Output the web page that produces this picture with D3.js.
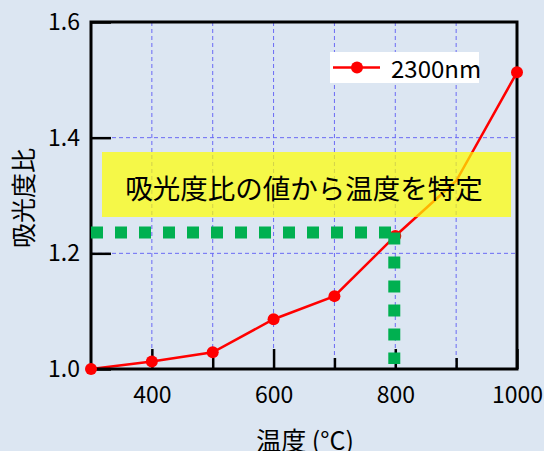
<!DOCTYPE html>
<html><head><meta charset="utf-8">
<script src="https://cdn.jsdelivr.net/npm/d3@7/dist/d3.min.js"></script>
<style>html,body{margin:0;padding:0;background:#dce6f2;}svg{display:block;}</style>
</head><body>
<script>
const temps = [300, 400, 500, 600, 700, 800, 900, 1000];
const ratios = [1.000, 1.013, 1.029, 1.086, 1.126, 1.230, 1.325, 1.513];
const markerShown = [true, true, true, true, true, true, false, true];
const xTickLabels = [400, 600, 800, 1000];
const xMinorTicks = [500, 700, 900];
const yTickLabels = [1.0, 1.2, 1.4, 1.6];
const xGrid = [400, 500, 600, 700, 800, 900];
const yGrid = [1.2, 1.4];
const seriesName = "2300nm";
const annotation = "吸光度比の値から温度を特定";
const readValue = 1.236, readTemp = 800;

const W = 544, H = 451;
const m = {l: 91, t: 22, r: 517, b: 369};
const font = "'Noto Sans CJK JP', 'Noto Sans', sans-serif";
const svg = d3.select("body").append("svg").attr("width", W).attr("height", H);
svg.append("rect").attr("width", W).attr("height", H).attr("fill", "#dce6f2");

const x = d3.scaleLinear().domain([300, 1000]).range([m.l, m.r]);
const y = d3.scaleLinear().domain([1.0, 1.6]).range([m.b, m.t]);

// grid
svg.append("g").selectAll("line").data(xGrid).join("line")
  .attr("x1", d => x(d)).attr("x2", d => x(d)).attr("y1", m.t).attr("y2", m.b)
  .attr("stroke", "#6a6af5").attr("stroke-width", 1).attr("stroke-dasharray", "4,3");
svg.append("g").selectAll("line").data(yGrid).join("line")
  .attr("x1", m.l).attr("x2", m.r).attr("y1", d => y(d)).attr("y2", d => y(d))
  .attr("stroke", "#6a6af5").attr("stroke-width", 1).attr("stroke-dasharray", "4,3");

// series
const pts = temps.map((t, i) => ({t, v: ratios[i], show: markerShown[i]}));
svg.append("path").datum(pts)
  .attr("d", d3.line().x(d => x(d.t)).y(d => y(d.v)))
  .attr("fill", "none").attr("stroke", "#ff0000").attr("stroke-width", 2.5);

// frame & axes
svg.append("rect").attr("x", m.l).attr("y", m.t).attr("width", m.r - m.l).attr("height", m.b - m.t)
  .attr("fill", "none").attr("stroke", "#000").attr("stroke-width", 3);

const xAxis = svg.append("g").attr("transform", `translate(0,${m.b})`)
  .call(d3.axisBottom(x).tickValues(xTickLabels).tickSizeInner(-20).tickSizeOuter(0).tickPadding(18).tickFormat(d3.format("d")));
xAxis.select(".domain").remove();
xAxis.selectAll("line").attr("stroke", "#000").attr("stroke-width", 2.5);
xAxis.selectAll("text").attr("font-family", font).attr("font-size", 23).attr("fill", "#000");

const xMinor = svg.append("g").attr("transform", `translate(0,${m.b})`)
  .call(d3.axisBottom(x).tickValues(xMinorTicks).tickSizeInner(-11).tickSizeOuter(0).tickFormat(""));
xMinor.select(".domain").remove();
xMinor.selectAll("line").attr("stroke", "#000").attr("stroke-width", 2.5);

const yAxis = svg.append("g").attr("transform", `translate(${m.l},0)`)
  .call(d3.axisLeft(y).tickValues(yTickLabels).tickSizeInner(-20).tickSizeOuter(0).tickPadding(11).tickFormat(d3.format(".1f")));
yAxis.select(".domain").remove();
yAxis.selectAll("line").attr("stroke", "#000").attr("stroke-width", 2.5);
yAxis.selectAll("text").attr("font-family", font).attr("font-size", 23).attr("fill", "#000");

// markers
svg.append("g").selectAll("circle").data(pts.filter(d => d.show)).join("circle")
  .attr("cx", d => x(d.t)).attr("cy", d => y(d.v)).attr("r", 6).attr("fill", "#ff0000");

// green dotted reading lines
svg.append("line").attr("x1", x(300)).attr("x2", x(readTemp) - 4).attr("y1", y(readValue)).attr("y2", y(readValue))
  .attr("stroke", "#00b050").attr("stroke-width", 12).attr("stroke-dasharray", "12,12");
svg.append("line").attr("x1", x(readTemp) - 1).attr("x2", x(readTemp) - 1).attr("y1", y(readValue)).attr("y2", m.b - 5)
  .attr("stroke", "#00b050").attr("stroke-width", 12).attr("stroke-dasharray", "12,12");

// yellow annotation
svg.append("rect").attr("x", 102).attr("y", 152).attr("width", 409).attr("height", 65)
  .attr("fill", "#ffff00").attr("opacity", 0.7);
svg.append("text").attr("x", 304).attr("y", 187).attr("text-anchor", "middle").attr("dominant-baseline", "central")
  .attr("font-family", font).attr("font-size", 27.5).attr("fill", "#000").text(annotation);

// legend
const lg = svg.append("g");
lg.append("rect").attr("x", 330).attr("y", 52).attr("width", 149).attr("height", 31).attr("fill", "#fff");
lg.append("line").attr("x1", 333).attr("x2", 380).attr("y1", 67.5).attr("y2", 67.5).attr("stroke", "#ff0000").attr("stroke-width", 2.5);
lg.append("circle").attr("cx", 357).attr("cy", 67.5).attr("r", 6).attr("fill", "#ff0000");
lg.append("text").attr("x", 391).attr("y", 67.5).attr("dominant-baseline", "central").attr("font-family", font).attr("font-size", 24).attr("fill", "#000").text(seriesName);

// axis titles
svg.append("text").attr("transform", "translate(22,198) rotate(-90)").attr("text-anchor", "middle").attr("dominant-baseline", "central")
  .attr("font-family", font).attr("font-size", 25).attr("fill", "#000").text("吸光度比");
svg.append("text").attr("x", 305).attr("y", 450).attr("text-anchor", "middle")
  .attr("font-family", font).attr("font-size", 25).attr("fill", "#000").text("温度 (°C)");
</script>
</body></html>
